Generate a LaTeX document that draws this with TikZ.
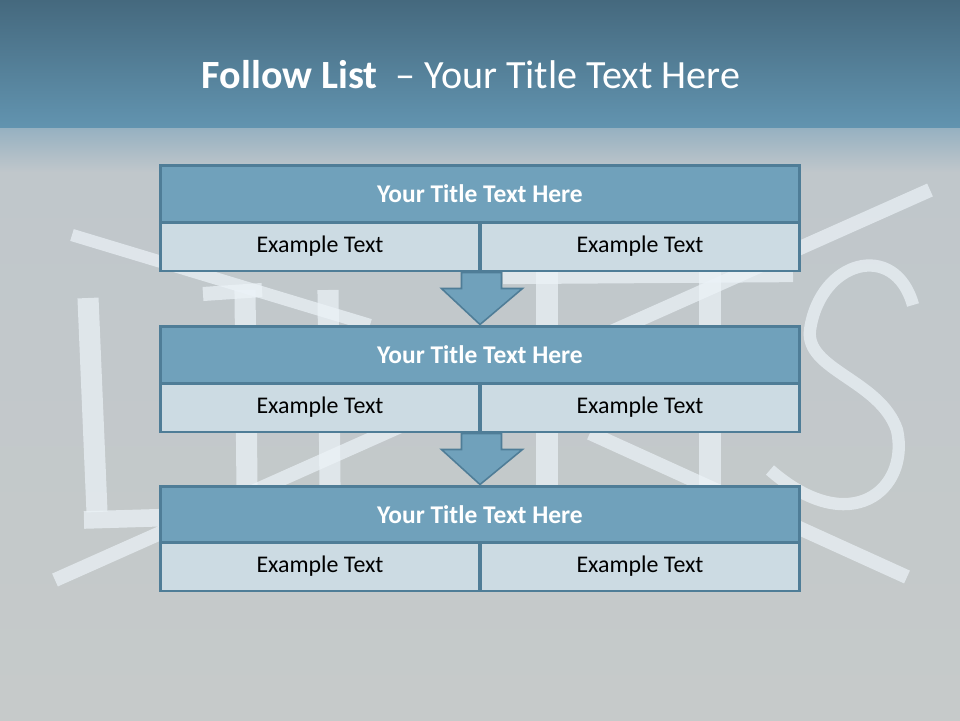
\documentclass[tikz,border=0pt]{standalone}
\usepackage{fontspec}
\setmainfont{Carlito}
\usetikzlibrary{calc,positioning}

\definecolor{bgtop}{RGB}{69,105,126}
\definecolor{bgmid}{RGB}{98,148,176}
\definecolor{bgfade}{RGB}{150,177,193}
\definecolor{bggray}{RGB}{192,199,203}
\definecolor{bgbot}{RGB}{198,202,202}
\definecolor{bandblue}{RGB}{112,161,187}
\definecolor{cellblue}{RGB}{204,219,227}
\definecolor{edgeblue}{RGB}{79,125,151}
\definecolor{chalkwhite}{RGB}{236,243,248}

\pgfdeclarelayer{back}
\pgfdeclarelayer{steps}
\pgfsetlayers{back,steps,main}

\begin{document}
\begin{tikzpicture}[x=0.02cm, y=-0.02cm,
        band/.style = {rectangle, draw=edgeblue, line width=1.7pt, fill=bandblue, text=white, font=\fontsize{14.5}{17}\selectfont\bfseries, minimum width=12.8cm, minimum height=1.14cm, inner sep=0pt},
        cell/.style = {rectangle, draw=edgeblue, line width=1.7pt, fill=cellblue, text=black, font=\fontsize{13.6}{16}\selectfont, minimum width=6.4cm, minimum height=0.98cm, inner sep=0pt},
        flowarr/.style = {draw=edgeblue, line width=0.9pt, fill=bandblue, line join=miter},
        chalk/.style = {draw=chalkwhite, draw opacity=0.7, line width=#1},
        chalk/.default = 7pt
    ]
        \useasboundingbox (0,0) rectangle (960,720);

        % Background
        \begin{pgfonlayer}{back}
        \fill[top color=bgtop, bottom color=bgmid] (0,0) rectangle (960,128);
        \fill[top color=bgfade, bottom color=bggray] (0,128) rectangle (960,172);
        \fill[top color=bggray, bottom color=bgbot] (0,172) rectangle (960,720);

        % Chalk letters behind the list
        \draw[chalk=7pt] (72,235) -- (370,325);
        \draw[chalk=12pt] (88,298) -- (97,512);
        \draw[chalk=10pt] (84,520) -- (250,515);
        \draw[chalk=8pt] (55,580) -- (930,190);
        \draw[chalk=12pt] (245,290) -- (247,487);
        \draw[chalk=8pt] (203,294) -- (262,290);
        \draw[chalk=12pt] (328,290) -- (330,487);
        \draw[chalk=12pt] (547,272) -- (547,487);
        \draw[chalk=12pt] (710,272) -- (710,487);
        \draw[chalk=7pt] (503,278) -- (793,276);
        \draw[chalk=8pt] (590,433) -- (907,577);
        \draw[chalk=7pt] (913,305) .. controls (895,240) and (820,260) .. (810,330)
            .. controls (805,370) and (880,380) .. (897,430)
            .. controls (910,490) and (850,540) .. (770,470);
        \end{pgfonlayer}

        % Title
        \node[text=white, font=\fontsize{22.8}{27}\selectfont, anchor=base] (title) at (471,88) {\textbf{Follow List}\ \ – Your Title Text Here};

        % List boxes
        \node[band] (t1) at (480,193.5) {Your Title Text Here};
        \node[cell] (l1) at (320,246.5) {Example Text};
        \node[cell] (r1) at (640,246.5) {Example Text};

        \node[band] (t2) at (480,354.5) {Your Title Text Here};
        \node[cell] (l2) at (320,407.5) {Example Text};
        \node[cell] (r2) at (640,407.5) {Example Text};

        \node[band] (t3) at (480,514.5) {Your Title Text Here};
        \node[cell] (l3) at (320,566.5) {Example Text};
        \node[cell] (r3) at (640,566.5) {Example Text};

        % Step arrows
        \begin{pgfonlayer}{steps}
        \foreach \i/\j in {1/2,2/3}
            \draw[flowarr] ($(l\i.south east)+(-20,0)$) -- ++(0,16) -- ++(-20,0)
                -- (t\j.north) -- ($(l\i.south east)+(41,16)$)
                -- ($(l\i.south east)+(20,16)$) -- ($(l\i.south east)+(20,0)$) -- cycle;
        \end{pgfonlayer}

    \end{tikzpicture}
\end{document}
